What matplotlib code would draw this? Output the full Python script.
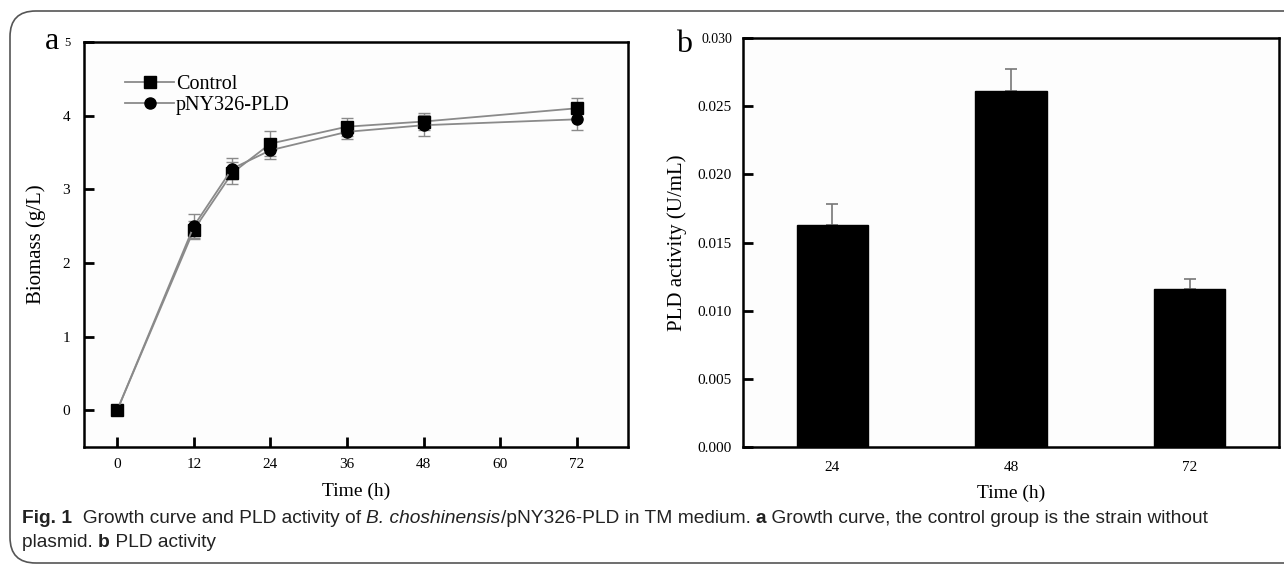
import matplotlib
matplotlib.use("Agg")
import matplotlib.pyplot as plt
from matplotlib.patches import FancyBboxPatch
import numpy as np

# ---- data ----
time_h = [0, 12, 18, 24, 36, 48, 72]
control = [0.0, 2.45, 3.22, 3.62, 3.85, 3.92, 4.10]
control_err = [0.03, 0.12, 0.15, 0.17, 0.12, 0.12, 0.14]
pny = [0.0, 2.50, 3.28, 3.53, 3.78, 3.87, 3.95]
pny_err = [0.03, 0.16, 0.14, 0.12, 0.10, 0.14, 0.14]
x_ticks_a = [0, 12, 24, 36, 48, 60, 72]
y_ticks_a = [0, 1, 2, 3, 4, 5]

bar_labels = ["24", "48", "72"]
pld_activity = [0.0163, 0.0261, 0.0116]
pld_err = [0.0015, 0.0016, 0.0007]
y_ticks_b = [0.000, 0.005, 0.010, 0.015, 0.020, 0.025, 0.030]

serif = ["Liberation Serif", "DejaVu Serif"]
cap_font = ["Liberation Sans Narrow", "Liberation Sans", "DejaVu Sans"]

W, H = 1284, 569
fig = plt.figure(figsize=(W / 100, H / 100), dpi=100)
fig.patch.set_facecolor("white")

# outer rounded frame
frame = FancyBboxPatch((10 / W, 6 / H), (W + 60) / W, (H - 6 - 11) / H,
                       boxstyle="round,pad=0,rounding_size=0.02",
                       transform=fig.transFigure, fill=False,
                       edgecolor="#555555", linewidth=1.2, mutation_aspect=W / H)
fig.patches.append(frame)

def ax_rect(x0, y0, x1, y1):
    return [x0 / W, 1 - y1 / H, (x1 - x0) / W, (y1 - y0) / H]

# ---------------- panel a ----------------
ax1 = fig.add_axes(ax_rect(84, 42, 628, 447))
ax1.set_facecolor("#fdfdfd")
ax1.errorbar(time_h, control, yerr=control_err, color="#8a8a8a", lw=1.3,
             ecolor="#8a8a8a", elinewidth=1.0, capsize=4, capthick=1.0,
             marker="s", markersize=8, markerfacecolor="black",
             markeredgecolor="black", label="Control", zorder=3)
ax1.errorbar(time_h, pny, yerr=pny_err, color="#8a8a8a", lw=1.3,
             ecolor="#8a8a8a", elinewidth=1.0, capsize=4, capthick=1.0,
             marker="o", markersize=8, markerfacecolor="black",
             markeredgecolor="black", label="pNY326-PLD", zorder=3)
ax1.set_xlim(-5.2, 80)
ax1.set_ylim(-0.5, 5)
ax1.set_xticks(x_ticks_a)
ax1.set_yticks(y_ticks_a)
ax1.set_xticklabels([str(v) for v in x_ticks_a], fontfamily=serif, fontsize=11)
ax1.set_yticklabels([str(v) for v in y_ticks_a], fontfamily=serif, fontsize=11)
ax1.get_yticklabels()[-1].set_fontsize(9)
ax1.tick_params(direction="in", length=7, width=2, pad=8)
ax1.tick_params(axis="y", pad=10)
for s in ax1.spines.values():
    s.set_linewidth(1.8)
ax1.set_xlabel("Time (h)", fontfamily=serif, fontsize=14, labelpad=8)
ax1.set_ylabel("Biomass (g/L)", fontfamily=serif, fontsize=15, labelpad=12)
handles, labels = ax1.get_legend_handles_labels()
handles = [h[0] for h in handles]
leg = ax1.legend(handles, labels, loc="upper left", bbox_to_anchor=(0.076, 0.918),
                 frameon=False, prop={"family": serif, "size": 14.5},
                 handlelength=2.4, handletextpad=0.1, labelspacing=0.1,
                 borderaxespad=0, borderpad=0)
fig.text(45 / W, 1 - 49 / H, "a", fontfamily=serif, fontsize=23,
         ha="left", va="baseline")

# ---------------- panel b ----------------
ax2 = fig.add_axes(ax_rect(743, 38, 1279, 447))
ax2.set_facecolor("#fdfdfd")
xpos = np.arange(len(bar_labels))
ax2.bar(xpos, pld_activity, width=0.4, color="black", edgecolor="black", zorder=2)
ax2.errorbar(xpos, pld_activity, yerr=[np.zeros(len(pld_err)), pld_err],
             fmt="none", ecolor="#777777", elinewidth=1.2, capsize=4,
             capthick=1.2, zorder=1)
ax2.set_xlim(-0.5, 2.5)
ax2.set_ylim(0, 0.030)
ax2.set_xticks(xpos)
ax2.set_xticklabels(bar_labels, fontfamily=serif, fontsize=11)
ax2.set_yticks(y_ticks_b)
ax2.set_yticklabels([f"{v:.3f}" for v in y_ticks_b], fontfamily=serif, fontsize=11)
ax2.get_yticklabels()[-1].set_fontsize(10)
ax2.tick_params(axis="y", direction="in", length=7, width=2, pad=8)
ax2.tick_params(axis="x", length=0, pad=10)
for s in ax2.spines.values():
    s.set_linewidth(1.8)
ax2.set_xlabel("Time (h)", fontfamily=serif, fontsize=14, labelpad=8)
ax2.set_ylabel("PLD activity (U/mL)", fontfamily=serif, fontsize=15, labelpad=8)
fig.text(676 / W, 1 - 52 / H, "b", fontfamily=serif, fontsize=23,
         ha="left", va="baseline")

# ---------------- caption ----------------
fig.canvas.draw()
renderer = fig.canvas.get_renderer()

def draw_pieces(pieces, x_px, y_px, size=13.8):
    x = x_px
    for txt, weight, style in pieces:
        t = fig.text(x / W, 1 - y_px / H, txt, fontfamily=cap_font, fontsize=size,
                     fontweight=weight, fontstyle=style, ha="left",
                     va="baseline", color="#222222")
        bb = t.get_window_extent(renderer=renderer)
        x += bb.width
    return x

line1 = [("Fig. 1", "bold", "normal"),
         ("  Growth curve and PLD activity of ", "normal", "normal"),
         ("B. choshinensis", "normal", "italic"),
         ("/pNY326-PLD in TM medium. ", "normal", "normal"),
         ("a", "bold", "normal"),
         (" Growth curve, the control group is the strain without", "normal", "normal")]
line2 = [("plasmid. ", "normal", "normal"),
         ("b", "bold", "normal"),
         (" PLD activity", "normal", "normal")]
draw_pieces(line1, 22, 523)
draw_pieces(line2, 22, 547)

fig.savefig("out.png", dpi=100, facecolor="white")
